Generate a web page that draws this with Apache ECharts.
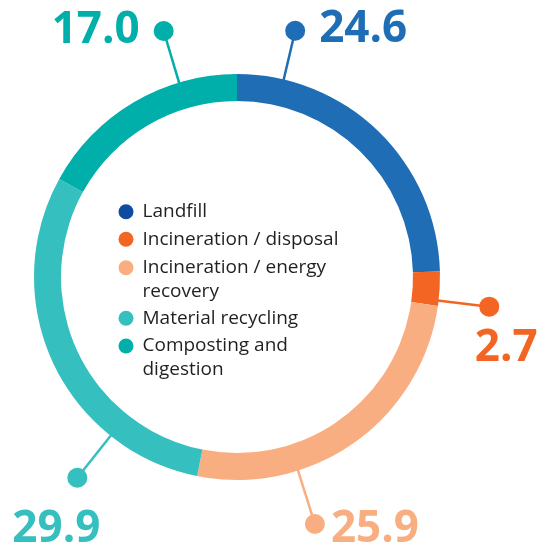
<!DOCTYPE html>
<html><head><meta charset="utf-8">
<script src="https://cdn.jsdelivr.net/npm/echarts@6/dist/echarts.min.js"></script>
<style>html,body{margin:0;padding:0;background:#fff}#c{width:541px;height:547px}</style>
</head><body><div id="c"></div>
<script>
// ---- data ----
const categories = ['Landfill', 'Incineration / disposal', 'Incineration / energy recovery', 'Material recycling', 'Composting and digestion'];
const values = [24.6, 2.7, 25.9, 29.9, 17.0];
const valueLabels = ['24.6', '2.7', '25.9', '29.9', '17.0'];
const legendLines = ['Landfill', 'Incineration / disposal', 'Incineration / energy\nrecovery', 'Material recycling', 'Composting and\ndigestion'];

// ---- styling / layout ----
const colors = ['#1f6eb5', '#f26522', '#f9ae82', '#36bfbf', '#00aeaa'];
const legendColors = ['#0e4c9f', '#f26522', '#f9ae82', '#36bfbf', '#00aeaa'];
const CX = 237, CY = 277;
const calloutAngle = [13.3, 96.7, 162.5, 218.5, 343.4];
const calloutRadius = [253, 254, 259, 256.5, 256.7];
const labelPlace = [
  {position: 'right', distance: 14, offset: [0, -1]},
  {position: 'inside', offset: [17, 42]},
  {position: 'right', distance: 6, offset: [0, 5]},
  {position: 'inside', offset: [-21, 51.5]},
  {position: 'left', distance: 14, offset: [0, -1]}
];
const legendIconY = [211.7, 239.3, 267.7, 318.3, 346];

const chart = echarts.init(document.getElementById('c'), null, {renderer: 'canvas'});

const series = [{
  type: 'pie',
  center: [CX, CY],
  radius: [176, 203],
  startAngle: 90,
  clockwise: true,
  silent: true,
  label: {show: false},
  labelLine: {show: false},
  data: categories.map((name, i) => ({name, value: values[i], itemStyle: {color: colors[i]}}))
}];

categories.forEach((name, i) => {
  series.push({
    type: 'line',
    coordinateSystem: 'polar',
    symbol: 'none',
    silent: true,
    z: 3,
    lineStyle: {color: colors[i], width: 2.5},
    data: [[202, calloutAngle[i]], [calloutRadius[i], calloutAngle[i]]]
  });
});

series.push({
  type: 'scatter',
  coordinateSystem: 'polar',
  symbol: 'circle',
  symbolSize: 20,
  silent: true,
  z: 4,
  itemStyle: {opacity: 1},
  data: categories.map((name, i) => ({
    value: [calloutRadius[i], calloutAngle[i]],
    itemStyle: {color: colors[i], opacity: 1},
    label: Object.assign({
      show: true,
      formatter: valueLabels[i],
      color: colors[i],
      opacity: 1,
      fontFamily: 'Open Sans',
      fontWeight: 'bold',
      fontSize: 44
    }, labelPlace[i])
  }))
});

const option = {
  animation: false,
  backgroundColor: '#ffffff',
  polar: {center: [CX, CY], radius: 300},
  angleAxis: {type: 'value', min: 0, max: 360, startAngle: 90, clockwise: true, show: false},
  radiusAxis: {type: 'value', min: 0, max: 300, show: false},
  legend: categories.map((name, i) => {
    const twoLine = legendLines[i].indexOf('\n') >= 0;
    return {
      orient: 'vertical',
      left: 118.5,
      top: legendIconY[i] - (twoLine ? 36 : 12),
      padding: 0,
      icon: 'circle',
      itemWidth: 15,
      itemHeight: 15,
      selectedMode: false,
      data: [{name: name, itemStyle: {color: legendColors[i]}}],
      formatter: () => (twoLine ? '\n' : '') + legendLines[i],
      textStyle: {
        fontFamily: 'Open Sans',
        fontSize: 19,
        color: '#231f20',
        lineHeight: 24,
        padding: [0, 0, 0, 4]
      }
    };
  }),
  series: series
};
chart.setOption(option);
</script>
</body></html>
